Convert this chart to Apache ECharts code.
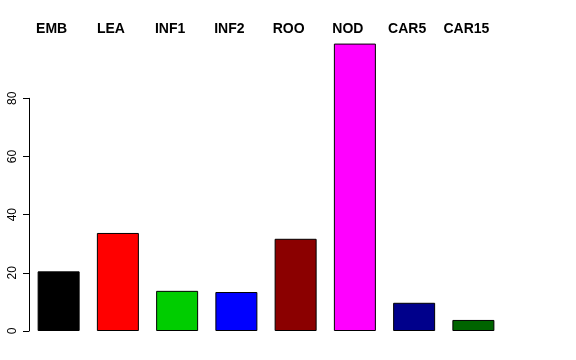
<!DOCTYPE html>
<html>
<head>
<meta charset="utf-8">
<script src="https://cdn.jsdelivr.net/npm/echarts@6/dist/echarts.min.js"></script>
<style>html,body{margin:0;padding:0;background:#fff}#c{width:576px;height:360px}</style>
</head>
<body>
<div id="c"></div>
<script>
var categories = ['EMB', 'LEA', 'INF1', 'INF2', 'ROO', 'NOD', 'CAR5', 'CAR15'];
var values = [20.5, 33.7, 13.8, 13.4, 31.7, 98.8, 9.7, 3.8];
var barColors = ['#000000', '#FF0000', '#00CD00', '#0000FF', '#8B0000', '#FF00FF', '#00008B', '#006400'];
var yTicks = [0, 20, 40, 60, 80];

var chart = echarts.init(document.getElementById('c'), null, {renderer: 'canvas'});
var font = 'Liberation Sans, Arial, Helvetica, sans-serif';
chart.setOption({
  animation: false,
  backgroundColor: '#ffffff',
  grid: [
    {left: 29, right: 73, top: 40.1, bottom: 29},
    {left: 29, right: 73, top: 98.3, bottom: 29}
  ],
  xAxis: [
    {
      type: 'category', gridIndex: 0, position: 'top', data: categories,
      axisLine: {show: false}, axisTick: {show: false},
      axisLabel: {color: '#000', fontFamily: font, fontWeight: 'bold', fontSize: 14, margin: 3.5, padding: [0, 14, 0, 0], interval: 0}
    },
    {type: 'category', gridIndex: 1, data: categories, show: false}
  ],
  yAxis: [
    {type: 'value', gridIndex: 0, min: 0, max: 100, show: false},
    {
      type: 'value', gridIndex: 1, min: 0, max: 80, interval: 20,
      axisLine: {show: true, lineStyle: {color: '#000', width: 1}},
      axisTick: {show: true, length: 6, lineStyle: {color: '#000'}},
      splitLine: {show: false},
      axisLabel: {
        color: '#000', fontFamily: font, fontSize: 12, rotate: 90, margin: 10,
        formatter: function (v) { return yTicks.indexOf(v) >= 0 ? String(v) : ''; }
      }
    }
  ],
  series: [
    {
      type: 'bar', xAxisIndex: 0, yAxisIndex: 0, barWidth: 42,
      data: values.map(function (v, i) {
        return {value: v, itemStyle: {color: barColors[i]}};
      }),
      itemStyle: {borderColor: '#000', borderWidth: 1}
    },
    {type: 'bar', xAxisIndex: 1, yAxisIndex: 1, data: []}
  ]
});
</script>
</body>
</html>
